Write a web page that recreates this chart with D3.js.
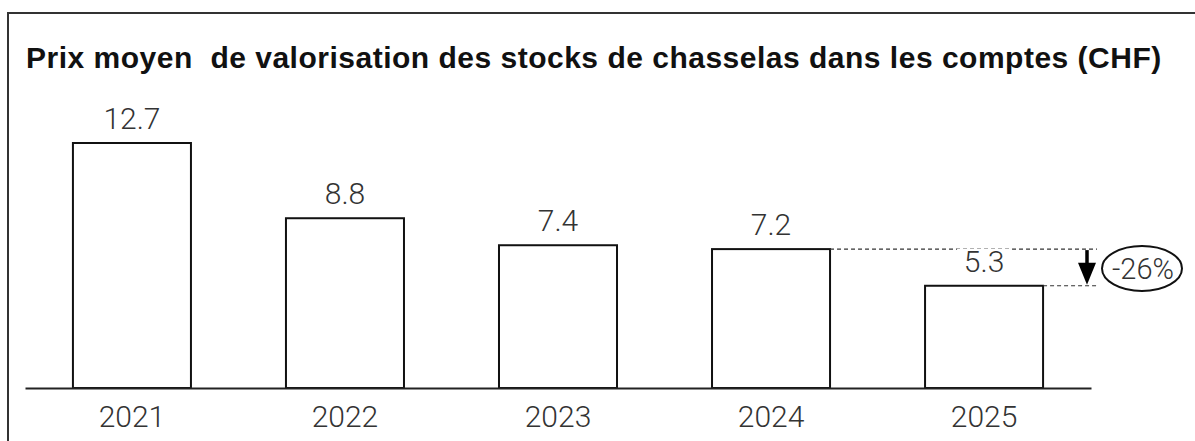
<!DOCTYPE html>
<html lang="fr">
<head>
    <meta charset="UTF-8">
    <script src="https://d3js.org/d3.v7.min.js"></script>
    <title>Prix moyen</title>
    <style>
        body { margin: 0; background: #fff; }
        .lbl { font-family: Roboto, sans-serif; font-weight: 300; fill: #333; }
        .domain { stroke: #222; stroke-width: 2; }
    </style>
</head>
<body>
    <div id="container"></div>
<script>
    // données
    var years = ["2021", "2022", "2023", "2024", "2025"];
    var prices = [12.7, 8.8, 7.4, 7.2, 5.3];
    var changeLabel = "-26%";
    var title = "Prix moyen  de valorisation des stocks de chasselas dans les comptes (CHF)";

    var svg_width = 1195, svg_height = 441;
    var base_y = 388;

    var svg = d3.select("#container").append("svg")
        .attr("width", svg_width)
        .attr("height", svg_height);

    // cadre
    svg.append("rect")
        .attr("x", 8).attr("y", 13)
        .attr("width", 1200).attr("height", 500)
        .attr("fill", "none").attr("stroke", "#333").attr("stroke-width", 2);

    svg.append("text")
        .attr("x", 26).attr("y", 68)
        .style("font-family", "'Liberation Sans', Arial, sans-serif")
        .style("font-weight", "bold")
        .style("font-size", "30px")
        .style("letter-spacing", "0.5px")
        .style("white-space", "pre")
        .attr("fill", "#111")
        .text(title);

    var x = d3.scaleBand()
        .domain(years)
        .range([25, 1091])
        .paddingInner(0.446)
        .paddingOuter(0.225);

    var y = d3.scaleLinear()
        .domain([0, 12.7])
        .range([base_y, 143]);

    var bars = svg.append("g");
    bars.selectAll("rect").data(prices).enter().append("rect")
        .attr("x", function(d, i) { return x(years[i]); })
        .attr("y", function(d) { return y(d); })
        .attr("width", x.bandwidth())
        .attr("height", function(d) { return base_y - y(d); })
        .attr("fill", "#fff")
        .attr("stroke", "#111")
        .attr("stroke-width", 2);

    // lignes pointillées pour la variation
    var last = prices.length - 1;
    var markX = 1097;
    [last - 1, last].forEach(function(i) {
        svg.append("line")
            .attr("x1", x(years[i]) + x.bandwidth()).attr("x2", markX)
            .attr("y1", y(prices[i])).attr("y2", y(prices[i]))
            .attr("stroke", "#333").attr("stroke-width", 1.2)
            .attr("stroke-dasharray", "4,3");
    });

    // étiquettes de valeur (fond blanc)
    var labels = svg.append("g").selectAll("g").data(prices).enter().append("g");
    labels.append("rect")
        .attr("x", function(d, i) { return x(years[i]) + x.bandwidth() / 2 - 27; })
        .attr("y", function(d) { return y(d) - 37; })
        .attr("width", 54).attr("height", 30)
        .attr("fill", "#fff");
    labels.append("text")
        .attr("class", "lbl")
        .attr("x", function(d, i) { return x(years[i]) + x.bandwidth() / 2; })
        .attr("y", function(d) { return y(d) - 14; })
        .attr("text-anchor", "middle")
        .style("font-size", "30px")
        .text(function(d) { return d3.format(".1f")(d); });

    // axe x
    var xAxis = d3.axisBottom(x).tickSize(0).tickSizeOuter(0);
    var gx = svg.append("g").attr("transform", "translate(0," + base_y + ")").call(xAxis);
    gx.selectAll(".tick text")
        .attr("class", "lbl")
        .attr("dy", 0).attr("y", 39)
        .style("font-size", "30px");

    // flèche
    var arrowX = 1087;
    var y0 = y(prices[last - 1]), y1 = y(prices[last]);
    svg.append("line")
        .attr("x1", arrowX).attr("x2", arrowX)
        .attr("y1", y0 + 1).attr("y2", y1 - 20)
        .attr("stroke", "#000").attr("stroke-width", 3.5);
    svg.append("path")
        .attr("d", "M" + (arrowX - 9) + "," + (y1 - 23) + "L" + (arrowX + 9) + "," + (y1 - 23) + "L" + arrowX + "," + (y1 - 1) + "Z")
        .attr("fill", "#000");

    // ellipse
    var cy = (y0 + y1) / 2 + 1;
    svg.append("ellipse")
        .attr("cx", 1142).attr("cy", cy)
        .attr("rx", 40).attr("ry", 22.5)
        .attr("fill", "#fff").attr("stroke", "#111").attr("stroke-width", 2);
    svg.append("text")
        .attr("class", "lbl")
        .attr("x", 1143).attr("y", cy + 11)
        .attr("text-anchor", "middle")
        .style("font-size", "29px")
        .text(changeLabel);
</script>
</body>
</html>
